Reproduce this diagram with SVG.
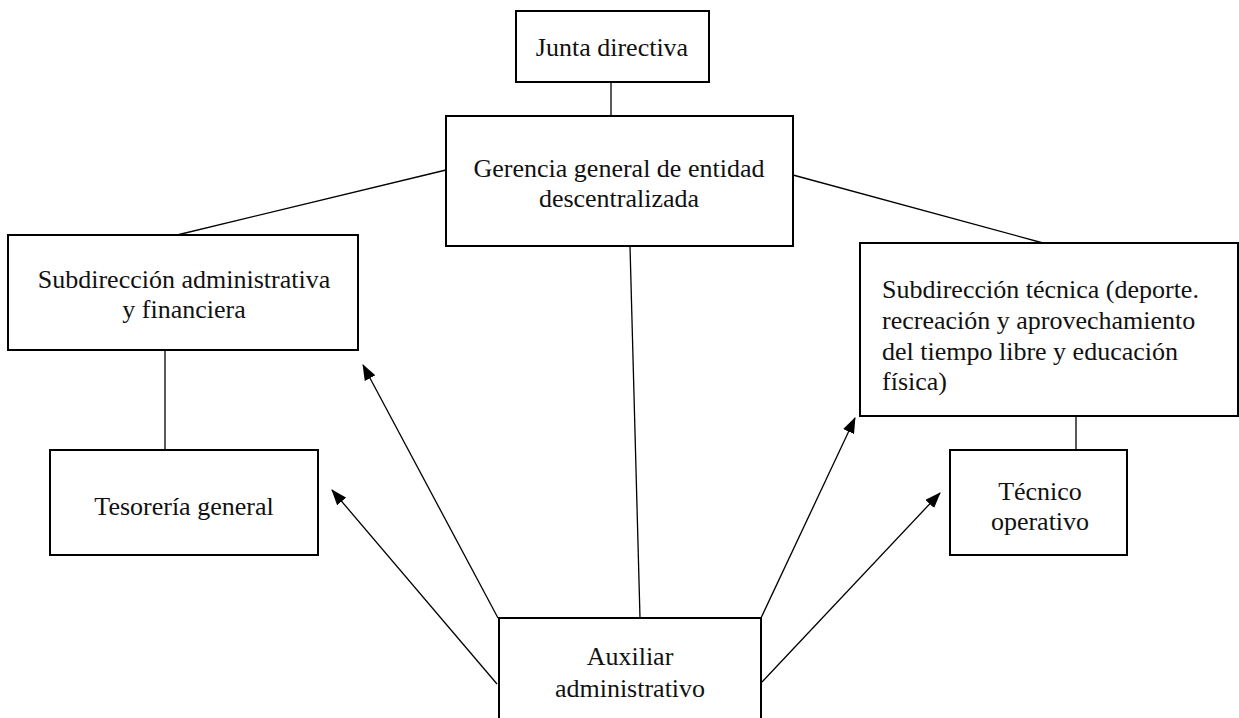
<svg xmlns="http://www.w3.org/2000/svg" width="1239" height="718" viewBox="0 0 1239 718">
<defs>
<marker id="ah" viewBox="0 0 10 10" refX="9" refY="5" markerWidth="8" markerHeight="8" markerUnits="userSpaceOnUse" orient="auto">
<path d="M0,0 L10,5 L0,10 z" fill="#000"/>
</marker>
<style>
.box{fill:#fff;stroke:#000;stroke-width:2}
.t{font-family:"Liberation Serif","Times New Roman",serif;font-size:26px;fill:#111}
.c{text-anchor:middle}
.ln{stroke:#000;stroke-width:1.3;fill:none}
.ar{stroke:#000;stroke-width:1.3;fill:none}
</style>
<marker id="a" viewBox="0 0 16 12" refX="15" refY="6" markerWidth="16" markerHeight="12" markerUnits="userSpaceOnUse" orient="auto">
<path d="M0,0 L16,6 L0,12 z" fill="#000"/>
</marker>
</defs>
<rect width="1239" height="718" fill="#fff"/>
<g id="connectors">
<line class="ln" x1="611" y1="82" x2="611" y2="116"/>
<line class="ln" x1="446" y1="170" x2="177" y2="235"/>
<line class="ln" x1="793" y1="175" x2="1043" y2="243"/>
<line class="ln" x1="630" y1="246" x2="640" y2="618"/>
<line class="ln" x1="165" y1="350" x2="165" y2="450"/>
<line class="ln" x1="1076" y1="416" x2="1076" y2="450"/>
<line class="ar" x1="498" y1="618" x2="363" y2="365" marker-end="url(#a)"/>
<line class="ar" x1="497" y1="684" x2="332" y2="490" marker-end="url(#a)"/>
<line class="ar" x1="761" y1="618" x2="855" y2="418" marker-end="url(#a)"/>
<line class="ar" x1="762" y1="682" x2="940" y2="493" marker-end="url(#a)"/>
</g>
<g id="junta">
<rect class="box" x="516" y="11" width="193" height="71"/>
<text class="t c" x="612" y="56">Junta directiva</text>
</g>
<g id="gerencia">
<rect class="box" x="446" y="116" width="347" height="130"/>
<text class="t c" x="619" y="177">Gerencia general de entidad</text>
<text class="t c" x="619" y="207">descentralizada</text>
</g>
<g id="sub-admin">
<rect class="box" x="8" y="235" width="350" height="115"/>
<text class="t c" x="184" y="288">Subdirección administrativa</text>
<text class="t c" x="184" y="318">y financiera</text>
</g>
<g id="tesoreria">
<rect class="box" x="50" y="450" width="268" height="105"/>
<text class="t c" x="184" y="515">Tesorería general</text>
</g>
<g id="sub-tecnica">
<rect class="box" x="860" y="243" width="378" height="173"/>
<text class="t" x="882" y="298">Subdirección técnica (deporte.</text>
<text class="t" x="882" y="329">recreación y aprovechamiento</text>
<text class="t" x="882" y="360">del tiempo libre y educación</text>
<text class="t" x="882" y="390">física)</text>
</g>
<g id="tecnico">
<rect class="box" x="950" y="450" width="177" height="105"/>
<text class="t c" x="1040" y="500">Técnico</text>
<text class="t c" x="1040" y="530">operativo</text>
</g>
<g id="auxiliar">
<rect class="box" x="499" y="618" width="262" height="110"/>
<text class="t c" x="630" y="665">Auxiliar</text>
<text class="t c" x="630" y="697">administrativo</text>
</g>
</svg>
